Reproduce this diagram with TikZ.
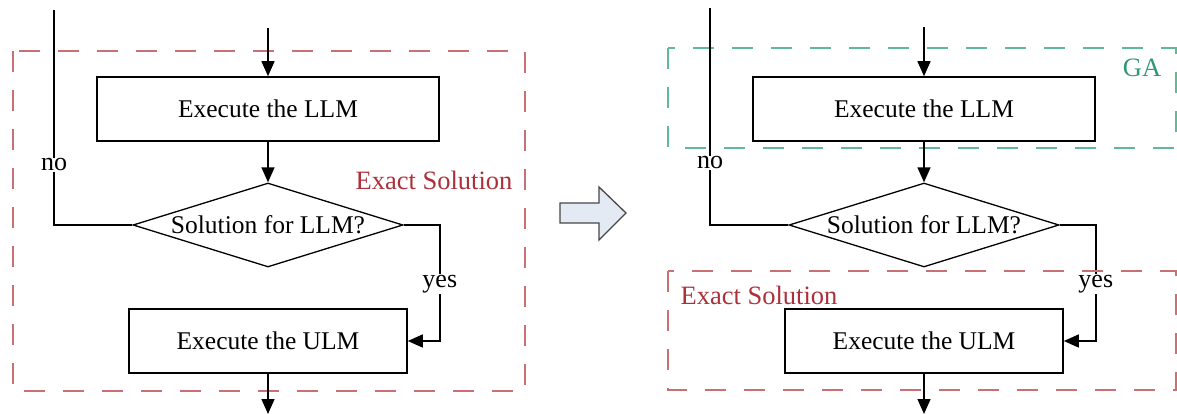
\documentclass[tikz,border=0pt]{standalone}
\usepackage{fontspec}
\setmainfont{Liberation Serif}
\usetikzlibrary{shapes.geometric,arrows.meta}
\definecolor{exactline}{RGB}{200,112,116}
\definecolor{exacttxt}{RGB}{172,48,58}
\definecolor{galine}{RGB}{96,186,152}
\definecolor{gatxt}{RGB}{48,152,112}
\definecolor{hollowfill}{RGB}{228,234,244}
\begin{document}
\begin{tikzpicture}[x=1pt,y=-1pt,
    font=\fontsize{25.5}{30}\selectfont,
    block/.style={draw,line width=1.6pt,minimum width=342pt,minimum height=64pt,inner sep=0pt},
    decision/.style={diamond,draw,line width=1.3pt,minimum width=270pt,minimum height=84pt,inner sep=0pt},
    answer/.style={fill=white,inner xsep=2pt,inner ysep=1pt,font=\fontsize{26}{30}\selectfont},
    flow/.style={line width=1.4pt,-{Triangle[length=15pt,width=13pt]}},
    loop/.style={line width=1.4pt},
    exactbox/.style={draw=exactline,line width=1.8pt,dash pattern=on 21pt off 18pt},
    gabox/.style={draw=galine,line width=1.8pt,dash pattern=on 21pt off 18pt},
    exacttext/.style={text=exacttxt,inner sep=0pt,font=\fontsize{26.5}{30}\selectfont},
    gatext/.style={text=gatxt,inner sep=0pt,font=\fontsize{26.5}{30}\selectfont},
    hollow/.style={draw=black!72,fill=hollowfill,line width=1.3pt,line join=miter}]
  \useasboundingbox (0,0) rectangle (1177,414);

  % left flowchart, one region solved exactly
  \draw[exactbox] (13,51) rectangle (525,391);
  \node[exacttext] (esA) at (434,180) {Exact Solution};
  \node[block] (llmA) at (268,109) {Execute the LLM};
  \node[decision] (decA) at (268,225) {\makebox[0pt]{Solution for LLM?}};
  \node[block,minimum width=278pt] (ulmA) at (268,341) {Execute the ULM};
  \coordinate (inA) at (268,28);
  \coordinate (outA) at (268,414);
  \coordinate (backA) at (54,10);
  \begin{scope}[flow]
    \draw (inA) to (llmA);
    \draw (llmA) to (decA);
    \draw (decA.east) -| (llmA.east |- ulmA.east) node[pos=0.755,answer]{yes} -- (ulmA.east);
    \draw (ulmA) to (outA);
  \end{scope}
  \draw[loop] (decA.west) -| (backA) node[pos=0.64,answer]{no};

  % hollow arrow
  \draw[hollow] (560,203) -- (599,203) -- (599,187) -- (626,213) -- (599,240)
    -- (599,223) -- (560,223) -- cycle;

  % right flowchart, GA on top, exact below
  \draw[gabox] (668,48) rectangle (1176,148);
  \node[gatext] (ga) at (1142,68) {GA};
  \node[block] (llmB) at (924,109) {Execute the LLM};
  \node[decision] (decB) at (924,225) {\makebox[0pt]{Solution for LLM?}};
  \node[block,minimum width=278pt] (ulmB) at (924,341) {Execute the ULM};
  \coordinate (inB) at (924,27);
  \coordinate (outB) at (924,414);
  \coordinate (backB) at (710,8);
  \begin{scope}[flow]
    \draw (inB) to (llmB);
    \draw (llmB) to (decB);
    \draw (decB.east) -| (llmB.east |- ulmB.east) node[pos=0.755,answer]{yes} -- (ulmB.east);
    \draw (ulmB) to (outB);
  \end{scope}
  \draw[loop] (decB.west) -| (backB) node[pos=0.643,answer]{no};
  \draw[exactbox] (668,271) rectangle (1176,390);
  \node[exacttext] (esB) at (759,295) {Exact Solution};
\end{tikzpicture}
\end{document}
